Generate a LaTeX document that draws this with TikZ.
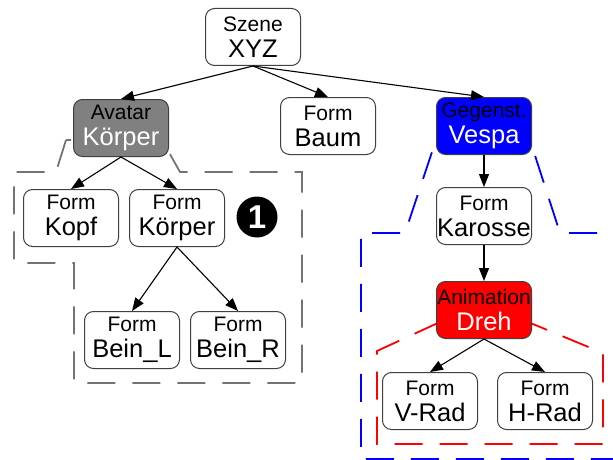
\documentclass[tikz,border=0pt]{standalone}
\usepackage{fontspec}
\setmainfont{Liberation Sans}
\usetikzlibrary{arrows.meta}

% two text lines of a box: kind above, name below
\newcommand{\lbl}[2]{{\fontsize{21}{26}\selectfont #1}\\{\fontsize{25.5}{26}\selectfont #2}}

\begin{document}
\begin{tikzpicture}[x=1pt,y=-1pt,
	box/.style={draw=black!75,line width=1pt,fill=white,rounded corners=9pt,
		minimum width=95pt,minimum height=57pt,inner sep=0pt,align=center,
		font=\fontsize{21}{26}\selectfont},
	edge/.style={line width=1.1pt,-{Triangle[length=13pt,width=10pt]}},
	group/.style={line width=1.8pt,dash pattern=on 28pt off 17pt}]
	\useasboundingbox (0,0) rectangle (613,460);

	% dashed outlines of the groups
	\draw[group,black!55] (66,140) -- (56,172) -- (14,172) -- (14,263) -- (74,263) -- (74,383)
		-- (302,383) -- (302,172) -- (180,172) -- (162,140) -- cycle;
	\draw[group,blue,dash phase=32pt] (436,140) -- (405,233) -- (361,233) -- (361,459) -- (616,459)
		-- (616,233) -- (560,233) -- (530,140) -- cycle;
	\draw[group,red] (440,322) -- (377,351) -- (377,444) -- (603,444) -- (603,353)
		-- (528,322) -- cycle;

	% tree
	\node[box] (szene) at (253,37) {\lbl{Szene}{XYZ}};
	\node[box,fill=black!50] (avatar) at (121,128) {\lbl{Avatar}{\color{white}Körper}};
	\node[box] (baum) at (328,126) {\lbl{Form}{Baum}};
	\node[box,fill=blue] (vespa) at (484,126) {\lbl{Gegenst.}{\color{white}Vespa}};
	\node[box] (kopf) at (71,218) {\lbl{Form}{Kopf}};
	\node[box] (koerper) at (177,218) {\lbl{Form}{Körper}};
	\node[box] (beinl) at (132,340) {\lbl{Form}{Bein\_L}};
	\node[box] (beinr) at (238,340) {\lbl{Form}{Bein\_R}};
	\node[box] (karosse) at (484,216) {\lbl{Form}{Karosse}};
	\node[box,fill=red] (dreh) at (484,310) {\lbl{Animation}{\color{white}Dreh}};
	\node[box] (vrad) at (430,401) {\lbl{Form}{V-Rad}};
	\node[box] (hrad) at (545,401) {\lbl{Form}{H-Rad}};
	\node[circle,fill=black,minimum size=41pt,inner sep=0pt,text=white,
		font=\bfseries\fontsize{33}{33}\selectfont] (eins) at (257,217) {1};

	\draw[edge] (szene.south) -- (avatar.north);
	\draw[edge] (szene.south) -- (baum.north);
	\draw[edge] (szene.south) -- (vespa.north);
	\draw[edge] (avatar.south) -- (kopf.north);
	\draw[edge] (avatar.south) -- (koerper.north);
	\draw[edge] (koerper.south) -- (beinl.north);
	\draw[edge] (koerper.south) -- (beinr.north);
	\draw[edge] (vespa.south) -- (karosse.north);
	\draw[edge] (karosse.south) -- (dreh.north);
	\draw[edge] (dreh.south) -- (vrad.north);
	\draw[edge] (dreh.south) -- (hrad.north);
\end{tikzpicture}
\end{document}
